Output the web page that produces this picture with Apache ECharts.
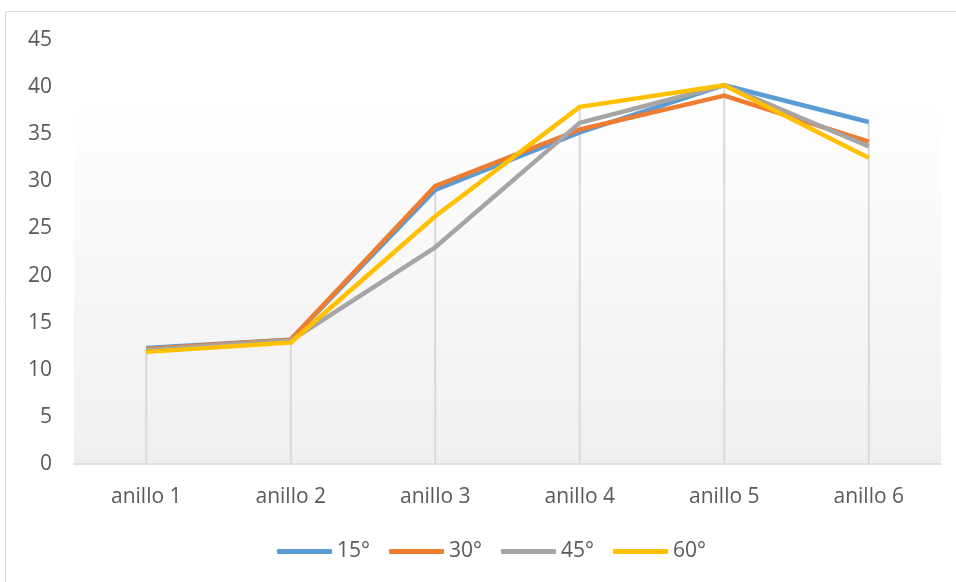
<!DOCTYPE html>
<html>
<head>
<meta charset="utf-8">
<script src="https://cdn.jsdelivr.net/npm/echarts@6/dist/echarts.min.js"></script>
<style>
  html, body { margin: 0; padding: 0; background: #fff; }
  #chart { width: 956px; height: 582px; }
</style>
</head>
<body>
<div id="chart"></div>
<script>
// Categories and series values
const categories = ['anillo 1', 'anillo 2', 'anillo 3', 'anillo 4', 'anillo 5', 'anillo 6'];
const serie15 = [12.3, 13.2, 29.1, 35.2, 40.2, 36.3];
const serie30 = [12.2, 13.2, 29.5, 35.5, 39.1, 34.2];
const serie45 = [12.1, 13.1, 23.0, 36.2, 40.2, 33.7];
const serie60 = [11.9, 12.9, 26.3, 37.9, 40.2, 32.5];
const seriesNames = ['15°', '30°', '45°', '60°'];
const yTicks = { min: 0, max: 45, interval: 5 };

const allSeries = [serie15, serie30, serie45, serie60];
const colors = ['#5B9BD5', '#ED7D31', '#A5A5A5', '#FFC000'];
// Drop lines reach the highest value of each category
const dropTops = categories.map((_, i) => Math.max(...allSeries.map(s => s[i])));

const font = '"Open Sans", sans-serif';
const chart = echarts.init(document.getElementById('chart'));

chart.setOption({
  animation: false,
  backgroundColor: '#ffffff',
  graphic: [{
    type: 'rect',
    shape: { x: 5.5, y: 11.5, width: 1200, height: 1200 },
    style: { fill: 'none', stroke: '#d9d9d9', lineWidth: 1 },
    silent: true
  }],
  grid: {
    left: 74, right: 15, top: 40, bottom: 118,
    show: true,
    borderWidth: 0,
    backgroundColor: {
      type: 'linear', x: 0, y: 0, x2: 0, y2: 1,
      colorStops: [
        { offset: 0, color: '#ffffff' },
        { offset: 0.12, color: '#ffffff' },
        { offset: 1, color: '#efefef' }
      ]
    }
  },
  legend: {
    data: seriesNames,
    bottom: 15,
    left: 272,
    icon: 'roundRect',
    itemWidth: 55,
    itemHeight: 5,
    itemGap: 19,
    textStyle: { color: '#595959', fontSize: 21, fontFamily: font }
  },
  xAxis: {
    type: 'category',
    data: categories,
    boundaryGap: true,
    axisLine: { show: true, lineStyle: { color: '#d9d9d9', width: 1.5 } },
    axisTick: { show: false },
    splitLine: { show: false },
    axisLabel: { color: '#595959', fontSize: 21, fontFamily: font, margin: 23 }
  },
  yAxis: {
    type: 'value',
    min: yTicks.min, max: yTicks.max, interval: yTicks.interval,
    axisLine: { show: false },
    axisTick: { show: false },
    splitLine: { show: false },
    axisLabel: { color: '#595959', fontSize: 21, fontFamily: font, margin: 22 }
  },
  series: [
    {
      type: 'bar',
      name: 'drop',
      data: dropTops,
      barWidth: 2,
      itemStyle: { color: '#d9d9d9' },
      silent: true,
      z: 1
    },
    ...allSeries.map((data, i) => ({
      type: 'line',
      name: seriesNames[i],
      data: data,
      symbol: 'none',
      color: colors[i],
      lineStyle: { width: 4.5, color: colors[i], join: 'round' },
      z: 2 + i
    }))
  ]
});
</script>
</body>
</html>
